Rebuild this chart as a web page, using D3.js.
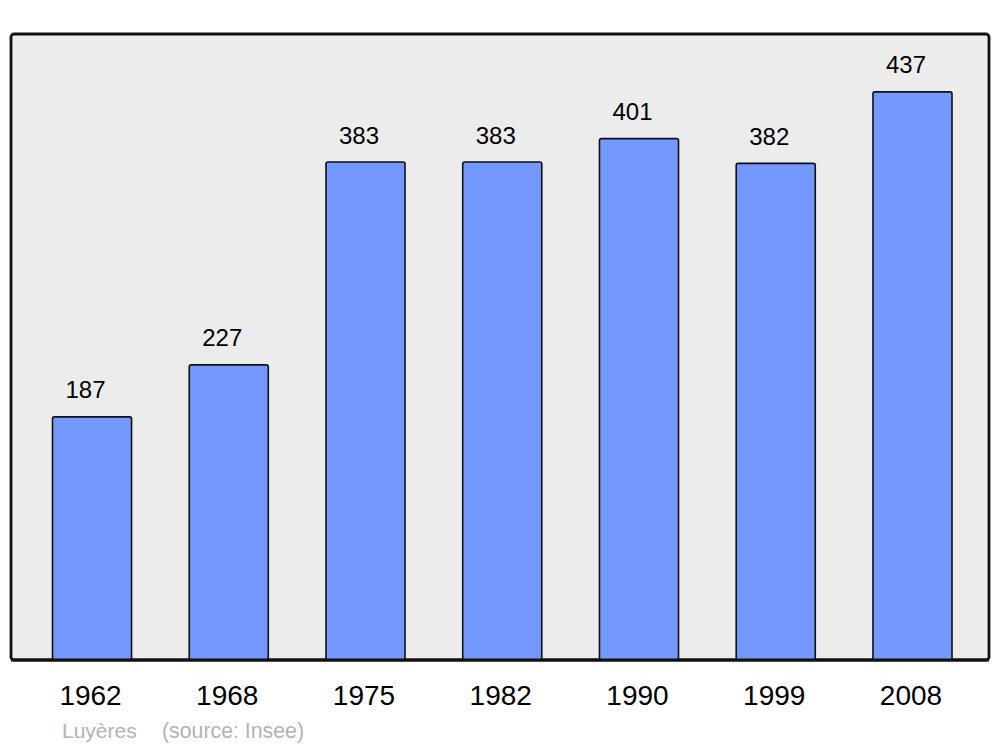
<!DOCTYPE html>
<html>
<head>
<meta charset="utf-8">
<script src="https://cdn.jsdelivr.net/npm/d3@7/dist/d3.min.js"></script>
<style>
  body { margin: 0; background: #fff; }
  text { font-family: "Liberation Sans", Arial, sans-serif; }
</style>
</head>
<body>
<div id="chart"></div>
<script>
// population data
const years = ["1962", "1968", "1975", "1982", "1990", "1999", "2008"];
const population = [187, 227, 383, 383, 401, 382, 437];
const townName = "Luyères";
const sourceText = "(source: Insee)";

const width = 1000, height = 747;
const frame = {left: 11, right: 989, top: 34, bottom: 660};

const svg = d3.select("#chart")
  .append("svg")
  .attr("width", width)
  .attr("height", height);

// background panel
svg.append("rect")
  .attr("x", frame.left)
  .attr("y", frame.top)
  .attr("width", frame.right - frame.left)
  .attr("height", frame.bottom - frame.top)
  .attr("rx", 3)
  .attr("fill", "#ececec")
  .attr("stroke", "#111")
  .attr("stroke-width", 2.8);

const xScale = d3.scaleBand()
  .domain(years)
  .range([52, 951.5])
  .paddingInner(0.422)
  .paddingOuter(0);

const yScale = d3.scaleLinear()
  .domain([0, 481.5])
  .range([frame.bottom, frame.top]);

const data = years.map((y, i) => ({year: y, value: population[i]}));

svg.selectAll("rect.bar")
  .data(data)
  .enter().append("rect")
  .attr("class", "bar")
  .attr("x", d => xScale(d.year) + 0.5)
  .attr("y", d => yScale(d.value))
  .attr("width", xScale.bandwidth())
  .attr("height", d => frame.bottom - yScale(d.value))
  .attr("rx", 2)
  .attr("fill", "#7399ff")
  .attr("stroke", "#111")
  .attr("stroke-width", 1.6);

// redraw bottom line of the frame over the bars
svg.append("line")
  .attr("x1", frame.left)
  .attr("x2", frame.right)
  .attr("y1", frame.bottom)
  .attr("y2", frame.bottom)
  .attr("stroke", "#111")
  .attr("stroke-width", 2.8);

// value labels
svg.selectAll("text.val")
  .data(data)
  .enter().append("text")
  .attr("class", "val")
  .attr("x", d => xScale(d.year) + xScale.bandwidth() / 2 - 6)
  .attr("y", d => yScale(d.value) - 18.5)
  .attr("text-anchor", "middle")
  .style("font-size", "24px")
  .attr("fill", "#000")
  .text(d => d.value);

// year axis
const xAxis = svg.append("g")
  .attr("transform", "translate(0," + frame.bottom + ")")
  .call(d3.axisBottom(xScale).tickSize(0).tickPadding(0));
xAxis.select(".domain").remove();
xAxis.selectAll("text")
  .attr("dy", null)
  .attr("y", 45)
  .attr("x", -1)
  .style("font-size", "28px")
  .style("font-family", "'Liberation Sans', Arial, sans-serif")
  .attr("fill", "#000");

// footer
svg.append("text")
  .attr("x", 62)
  .attr("y", 737.5)
  .style("font-size", "21px")
  .attr("fill", "#b3b3b3")
  .text(townName);
svg.append("text")
  .attr("x", 162)
  .attr("y", 737.5)
  .style("font-size", "21.3px")
  .attr("fill", "#b3b3b3")
  .text(sourceText);
</script>
</body>
</html>
